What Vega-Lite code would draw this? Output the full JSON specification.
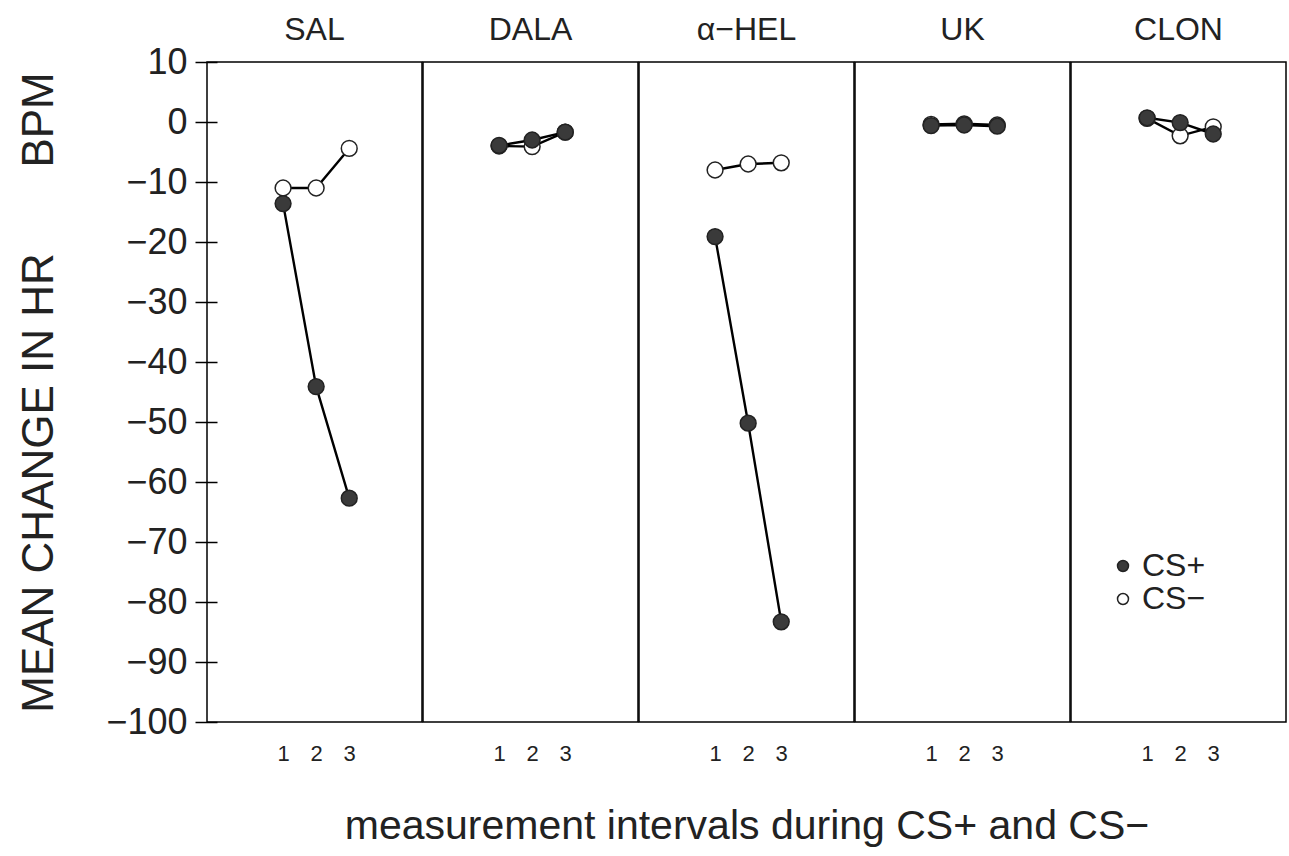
{
  "$schema": "https://vega.github.io/schema/vega-lite/v6.json",
  "padding": {"left": 17, "top": 14, "right": 4, "bottom": 4},
  "data": {"values": [
    {"drug": "SAL", "series": "CS−", "interval": 1, "hr": -11.0},
    {"drug": "SAL", "series": "CS−", "interval": 2, "hr": -11.0},
    {"drug": "SAL", "series": "CS−", "interval": 3, "hr": -4.4},
    {"drug": "DALA", "series": "CS−", "interval": 1, "hr": -4.0},
    {"drug": "DALA", "series": "CS−", "interval": 2, "hr": -4.1},
    {"drug": "DALA", "series": "CS−", "interval": 3, "hr": -1.7},
    {"drug": "α−HEL", "series": "CS−", "interval": 1, "hr": -8.0},
    {"drug": "α−HEL", "series": "CS−", "interval": 2, "hr": -7.0},
    {"drug": "α−HEL", "series": "CS−", "interval": 3, "hr": -6.8},
    {"drug": "UK", "series": "CS−", "interval": 1, "hr": -0.4},
    {"drug": "UK", "series": "CS−", "interval": 2, "hr": -0.3},
    {"drug": "UK", "series": "CS−", "interval": 3, "hr": -0.5},
    {"drug": "CLON", "series": "CS−", "interval": 1, "hr": 0.6},
    {"drug": "CLON", "series": "CS−", "interval": 2, "hr": -2.3},
    {"drug": "CLON", "series": "CS−", "interval": 3, "hr": -0.8},
    {"drug": "SAL", "series": "CS+", "interval": 1, "hr": -13.6},
    {"drug": "SAL", "series": "CS+", "interval": 2, "hr": -44.1},
    {"drug": "SAL", "series": "CS+", "interval": 3, "hr": -62.7},
    {"drug": "DALA", "series": "CS+", "interval": 1, "hr": -3.9},
    {"drug": "DALA", "series": "CS+", "interval": 2, "hr": -3.0},
    {"drug": "DALA", "series": "CS+", "interval": 3, "hr": -1.7},
    {"drug": "α−HEL", "series": "CS+", "interval": 1, "hr": -19.1},
    {"drug": "α−HEL", "series": "CS+", "interval": 2, "hr": -50.2},
    {"drug": "α−HEL", "series": "CS+", "interval": 3, "hr": -83.3},
    {"drug": "UK", "series": "CS+", "interval": 1, "hr": -0.6},
    {"drug": "UK", "series": "CS+", "interval": 2, "hr": -0.5},
    {"drug": "UK", "series": "CS+", "interval": 3, "hr": -0.7},
    {"drug": "CLON", "series": "CS+", "interval": 1, "hr": 0.7},
    {"drug": "CLON", "series": "CS+", "interval": 2, "hr": -0.1},
    {"drug": "CLON", "series": "CS+", "interval": 3, "hr": -2.0}
  ]},
  "spacing": -2,
  "facet": {
    "column": {
      "field": "drug",
      "type": "nominal",
      "sort": ["SAL", "DALA", "α−HEL", "UK", "CLON"],
      "title": "measurement intervals during CS+ and CS−",
      "header": {
        "labelOrient": "top",
        "titleOrient": "bottom",
        "labelFontSize": 32,
        "labelColor": "#222",
        "labelPadding": 14,
        "titleFontSize": 41,
        "titleFontWeight": "normal",
        "titleColor": "#222",
        "titlePadding": 33
      }
    }
  },
  "spec": {
    "width": 215,
    "height": 660,
    "layer": [
      {
        "mark": {"type": "line", "color": "black", "strokeWidth": 2.4},
        "encoding": {
          "x": {"field": "interval", "type": "quantitative"},
          "y": {"field": "hr", "type": "quantitative"},
          "detail": {"field": "series", "type": "nominal"}
        }
      },
      {
        "mark": {"type": "point", "shape": "circle", "filled": true, "size": 250, "stroke": "#222", "strokeWidth": 1.5, "opacity": 1},
        "encoding": {
          "x": {
            "field": "interval", "type": "quantitative",
            "scale": {"domain": [-1.3, 5.2], "nice": false, "zero": false},
            "axis": {"values": [1, 2, 3], "format": "d", "title": null, "domain": false, "ticks": false, "grid": false, "labelFontSize": 22, "labelPadding": 20, "labelDx": -8, "labelColor": "#222"}
          },
          "y": {
            "field": "hr", "type": "quantitative",
            "scale": {"domain": [-100, 10], "nice": false, "zero": false},
            "axis": {
              "title": "MEAN CHANGE IN HR\u00a0\u00a0\u00a0\u00a0\u00a0\u00a0\u00a0BPM",
              "values": [10, 0, -10, -20, -30, -40, -50, -60, -70, -80, -90, -100],
              "domain": false, "grid": false,
              "offset": -11, "tickSize": 22, "tickColor": "black", "tickWidth": 1.5,
              "labelFontSize": 36, "labelPadding": 8, "labelColor": "#222",
              "titleFontSize": 44, "titleFontWeight": "normal", "titleColor": "#222", "titlePadding": 44
            }
          },
          "fill": {
            "field": "series", "type": "nominal",
            "scale": {"domain": ["CS+", "CS−"], "range": ["#3a3a3a", "white"]},
            "legend": {"title": null, "orient": "none", "legendX": 900, "legendY": 488, "labelFontSize": 32, "labelColor": "#222", "symbolSize": 120, "symbolType": "circle", "symbolStrokeColor": "#222", "symbolStrokeWidth": 1.5, "rowPadding": 1, "labelOffset": 3}
          }
        }
      }
    ]
  },
  "config": {
    "font": "Liberation Sans",
    "view": {"stroke": "black", "strokeWidth": 1.5}
  }
}
